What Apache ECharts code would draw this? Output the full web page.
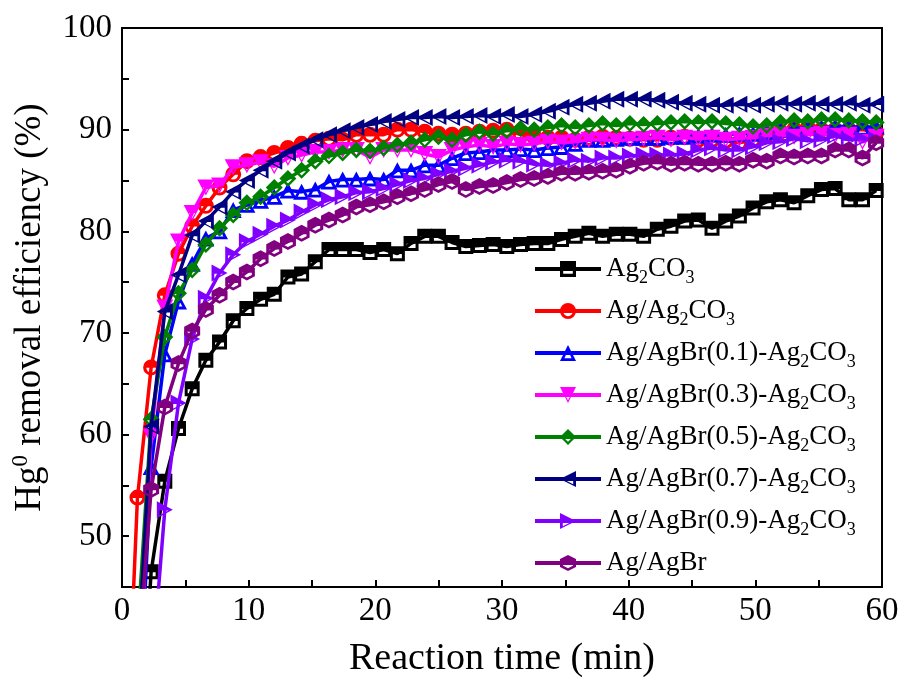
<!DOCTYPE html>
<html><head><meta charset="utf-8">
<script src="https://cdn.jsdelivr.net/npm/echarts/dist/echarts.min.js"></script>
<style>html,body{margin:0;padding:0;background:#fff}#c{width:899px;height:677px}</style>
</head><body><div id="c"></div><script>
// Sampling times (min)
const times = [0.14,1.22,2.30,3.38,4.46,5.54,6.62,7.70,8.78,9.86,10.94,12.02,13.10,14.18,15.26,16.34,17.42,18.50,19.58,20.66,21.74,22.82,23.90,24.98,26.06,27.14,28.22,29.30,30.38,31.46,32.54,33.62,34.70,35.78,36.86,37.94,39.02,40.10,41.18,42.26,43.34,44.42,45.50,46.58,47.66,48.74,49.82,50.90,51.98,53.06,54.14,55.22,56.30,57.38,58.46,59.54];

const ag2co3 = [10,25,46.5,55.4,60.6,64.5,67.3,69.1,71.2,72.4,73.3,73.8,75.5,75.8,77.0,78.2,78.2,78.2,77.9,78.2,77.8,78.8,79.5,79.5,78.9,78.5,78.6,78.7,78.5,78.7,78.8,78.8,79.2,79.5,79.8,79.5,79.7,79.7,79.5,80.2,80.5,81.0,81.1,80.3,81.0,81.5,82.3,82.9,83.1,82.8,83.5,84.1,84.2,83.1,83.1,84.0];
const agAg2co3 = [22,53.8,66.6,73.7,77.8,80.5,82.5,84.3,85.6,86.9,87.3,87.7,88.2,88.6,88.9,89.1,89.0,89.5,89.5,89.5,90.0,90.0,89.8,89.6,89.5,89.6,89.8,89.9,90.0,89.5,89.3,89.2,89.2,89.0,89.2,89.3,89.2,89.1,89.0,89.0,89.2,89.3,89.0,89.0,88.9,88.7,89.0,89.5,89.8,90.0,90.2,90.0,90.0,90.0,90.0,89.7];
const agBr01 = [5,29.4,56.8,67.9,73.1,76.8,79.3,80.0,82.1,82.6,83.0,83.4,84.0,83.9,84.1,84.9,85.1,85.1,85.2,85.1,86.0,86.0,86.5,86.5,87.2,87.7,87.8,88.0,88.0,88.1,88.0,88.2,88.3,88.6,89.0,89.0,89.1,89.2,89.2,89.2,89.3,89.3,89.4,89.5,89.5,89.6,89.6,89.8,90.0,90.1,90.2,90.2,90.3,90.3,90.2,90.3];
const agBr03 = [20,31.9,59.8,72.5,79.0,81.8,84.3,84.5,86.3,86.5,86.8,86.4,87.2,87.5,87.8,87.8,88.0,88.0,87.3,88.0,88.0,88.0,87.6,87.3,88.0,88.3,88.5,88.3,88.6,88.5,88.6,88.8,88.7,88.8,89.0,89.0,88.9,89.0,89.1,89.2,89.0,89.2,89.1,89.2,89.0,89.1,89.2,89.4,89.5,89.3,89.5,89.6,89.4,89.5,88.8,89.3];
const agBr05 = [15,40.4,61.5,69.6,73.9,76.2,78.7,80.3,81.6,82.8,83.4,84.3,85.2,86.0,86.9,87.4,87.7,88.0,87.9,88.2,88.5,88.7,89.0,89.3,89.0,89.5,89.8,89.6,89.9,90.1,90.0,90.2,90.4,90.2,90.4,90.6,90.4,90.6,90.5,90.6,90.7,90.8,90.7,90.8,90.6,90.5,90.3,90.4,90.7,90.9,90.8,91.0,91.0,90.9,90.8,90.7];
const agBr07 = [10,37.2,60.8,72.1,75.7,79.6,81.0,82.4,83.9,85.0,86.0,86.9,87.7,88.4,89.0,89.5,89.9,90.2,90.5,90.8,91.0,91.2,91.2,91.3,91.2,91.3,91.4,91.3,91.5,91.3,91.5,91.8,92.2,92.5,92.6,92.8,93.0,93.0,93.0,92.9,92.7,92.6,92.5,92.4,92.4,92.5,92.4,92.5,92.6,92.5,92.6,92.5,92.5,92.6,92.4,92.5];
const agBr09 = [5,10,35.7,52.6,63.1,69.4,73.4,75.9,77.7,79.0,79.7,80.5,81.1,81.9,82.6,83.1,83.4,83.8,83.9,84.2,84.6,85.0,85.2,85.6,85.9,86.2,86.5,86.8,87.0,86.9,86.6,86.5,86.7,87.0,86.9,87.2,87.2,87.4,87.5,87.5,87.5,87.6,88.0,88.2,88.0,88.0,88.3,88.7,88.8,89.1,88.9,89.0,89.4,89.0,89.1,89.0];
const agAgBr = [5,37.1,54.6,62.7,67.0,70.2,72.3,73.7,75.0,76.0,77.3,78.3,79.0,79.8,80.6,81.1,81.6,82.4,82.6,82.9,83.4,83.7,84.1,84.6,84.9,84.1,84.4,84.5,84.8,85.1,85.2,85.4,85.7,85.7,85.8,85.9,86.0,86.4,86.7,86.8,86.6,86.7,86.6,86.6,86.7,86.6,87.0,86.9,87.4,87.3,87.4,87.4,88.0,88.0,87.2,88.7];

const seriesNames = ['Ag2CO3','Ag/Ag2CO3','Ag/AgBr(0.1)-Ag2CO3','Ag/AgBr(0.3)-Ag2CO3','Ag/AgBr(0.5)-Ag2CO3','Ag/AgBr(0.7)-Ag2CO3','Ag/AgBr(0.9)-Ag2CO3','Ag/AgBr'];
const legendLabels = ['Ag{s|2}CO{s|3}','Ag/Ag{s|2}CO{s|3}','Ag/AgBr(0.1)-Ag{s|2}CO{s|3}','Ag/AgBr(0.3)-Ag{s|2}CO{s|3}','Ag/AgBr(0.5)-Ag{s|2}CO{s|3}','Ag/AgBr(0.7)-Ag{s|2}CO{s|3}','Ag/AgBr(0.9)-Ag{s|2}CO{s|3}','Ag/AgBr'];
const seriesValues = [ag2co3, agAg2co3, agBr01, agBr03, agBr05, agBr07, agBr09, agAgBr];
const colors = ['#000000','#FF0000','#0000FF','#FF00FF','#008000','#000080','#8000FF','#800080'];

// half-filled marker shapes (upper part filled, lower interior open)
const symbols = [
  'path://M0 0H20V20H0Z M4 10.5V16H16V10.5Z',
  'path://M0 10A10 10 0 1 1 20 10A10 10 0 1 1 0 10Z M16 10.5H4A6 6 0 0 0 16 10.5Z',
  'path://M10 0L20 20L0 20Z M5.5 16.5L14.5 16.5L12.3 12L7.7 12Z',
  'path://M0 0L20 0L10 20Z M6.5 10L10 16.5L13.5 10Z',
  'path://M10 0L20 10L10 20L0 10Z M5 11L10 16L15 11Z',
  'path://M0 10L20 0L20 20Z M5.5 11L16.5 16.5L16.5 11Z',
  'path://M0 0L20 10L0 20Z M3.5 11L3.5 16.5L14.5 11Z',
  'path://M10 0L19 5L19 15L10 20L1 15L1 5Z M4.5 11L4.5 13.5L10 16.5L15.5 13.5L15.5 11Z'
];
const symSizes = [[15,15],[16,16],[17,16],[17,16],[17,17],[16,17],[16,17],[16,17]];

const FONT = 'Liberation Serif';
const chart = echarts.init(document.getElementById('c'), null, {renderer:'canvas'});

const series = seriesNames.map((n,i)=>({
  name: n,
  type: 'line',
  data: times.map((t,k)=>[t, seriesValues[i][k]]),
  symbol: symbols[i],
  symbolSize: symSizes[i],
  showAllSymbol: true,
  clip: true,
  lineStyle: {color: colors[i], width: 3.5},
  itemStyle: {color: colors[i], borderWidth: 0},
  emphasis: {disabled: true},
  z: 2 + i
}));

chart.setOption({
  animation: false,
  backgroundColor: '#fff',
  grid: {left: 122, right: 17, top: 28, bottom: 90, outerBoundsMode: 'none', containLabel: false,
    show: true, borderColor: '#000', borderWidth: 2, backgroundColor: 'transparent'},
  legend: {
    left: 533, top: 251, orient: 'vertical', padding: 0,
    itemWidth: 66, itemHeight: 20, itemGap: 6,
    data: seriesNames,
    lineStyle: {width: 4},
    formatter: function(name){ return legendLabels[seriesNames.indexOf(name)]; },
    textStyle: {fontFamily: FONT, fontSize: 27, color: '#000', lineHeight: 36,
      rich: {s: {fontFamily: FONT, fontSize: 18, color: '#000', verticalAlign: 'bottom', lineHeight: 14}}},
    selectedMode: false
  },
  xAxis: {
    type: 'value', min: 0, max: 60, interval: 5,
    name: 'Reaction time (min)', nameLocation: 'middle', nameGap: 53,
    nameTextStyle: {fontFamily: FONT, fontSize: 38, color: '#000'},
    axisLine: {lineStyle: {color: '#000', width: 2}},
    axisTick: {inside: true, length: 7, lineStyle: {color: '#000', width: 2}},
    axisLabel: {margin: 8, fontFamily: FONT, fontSize: 33, color: '#000',
      formatter: v => (v % 10 === 0 ? String(v) : '')},
    splitLine: {show: false}
  },
  yAxis: {
    type: 'value', min: 45, max: 100, interval: 5,
    name: 'Hg{sup|0} removal efficiency (%)', nameLocation: 'middle', nameGap: 64, nameRotate: 90,
    nameTextStyle: {fontFamily: FONT, fontSize: 37, color: '#000', lineHeight: 42,
      rich: {sup: {fontFamily: FONT, fontSize: 23, color: '#000', verticalAlign: 'top', lineHeight: 22}}},
    axisLine: {lineStyle: {color: '#000', width: 2}},
    axisTick: {inside: true, length: 7, lineStyle: {color: '#000', width: 2}},
    axisLabel: {margin: 10, fontFamily: FONT, fontSize: 33, color: '#000',
      formatter: v => (v % 10 === 0 ? String(v) : '')},
    splitLine: {show: false}
  },
  series: series
});
</script></body></html>
